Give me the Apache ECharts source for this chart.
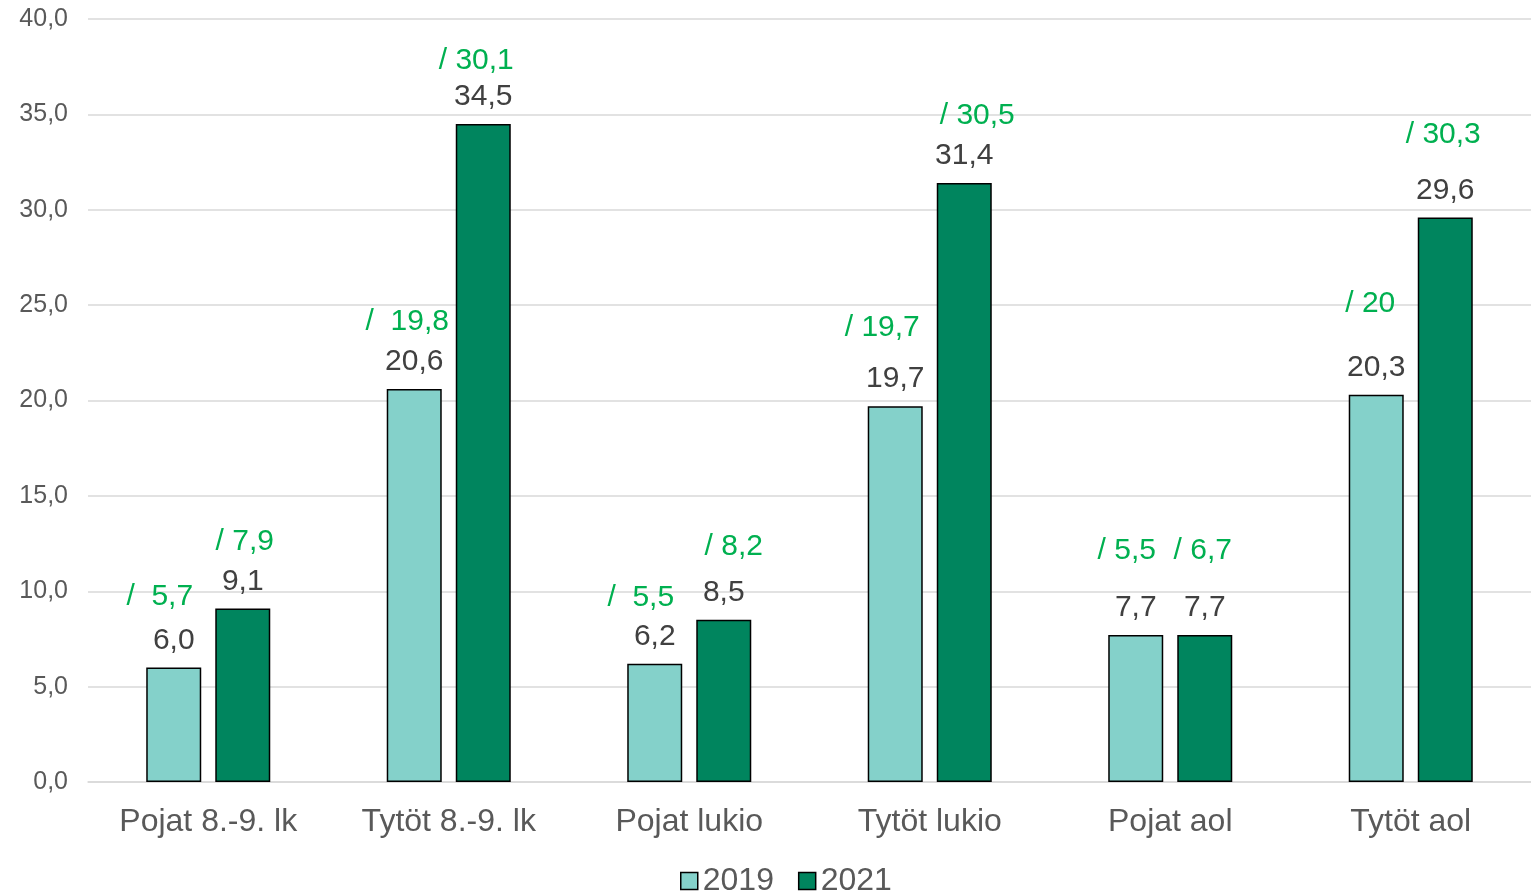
<!DOCTYPE html>
<html>
<head>
<meta charset="utf-8">
<script src="https://cdn.jsdelivr.net/npm/echarts@6/dist/echarts.min.js"></script>
<style>
html,body{margin:0;padding:0;background:#fff;}
#c{width:1531px;height:893px;}
</style>
</head>
<body>
<div id="c"></div>
<script>
const categories = ['Pojat 8.-9. lk', 'Tytöt 8.-9. lk', 'Pojat lukio', 'Tytöt lukio', 'Pojat aol', 'Tytöt aol'];
const seriesNames = ['2019', '2021'];
const values2019 = [6.0, 20.6, 6.2, 19.7, 7.7, 20.3];
const values2021 = [9.1, 34.5, 8.5, 31.4, 7.7, 29.6];
const green2019 = ['/  5,7', '/  19,8', '/  5,5', '/ 19,7', '/ 5,5', '/ 20'];
const green2021 = ['/ 7,9', '/ 30,1', '/ 8,2', '/ 30,5', '/ 6,7', '/ 30,3'];
const yTicks = { min: 0, max: 40, interval: 5 };

// layout of the green annotations (not data): horizontal shift and vertical gap in px
const greenLayout2019 = { dx: [-14, -7, -14, -13, -9, -6], gap: [44, 40, 39, 51, 57, 64] };
const greenLayout2021 = { dx: [2, -7, 10, 13, -2, -2], gap: [40, 36, 46, 40, 57, 56] };

const FONT = 'Liberation Sans, Arial, sans-serif';
const fmt = v => v.toFixed(1).replace('.', ',');
const VAL_FS = 30;

function makeSeries(name, values, greens, layout, color) {
  const rich = {
    v: { color: '#404040', fontSize: VAL_FS, fontFamily: FONT, lineHeight: VAL_FS }
  };
  values.forEach((_, i) => {
    rich['g' + i] = { color: '#00B050', fontSize: VAL_FS, fontFamily: FONT, lineHeight: 2 * (layout.gap[i] - VAL_FS / 2) };
    rich['s' + i] = { width: Math.abs(layout.dx[i]) * 2, fontSize: VAL_FS, lineHeight: 2 * (layout.gap[i] - VAL_FS / 2) };
  });
  return {
    name: name,
    type: 'bar',
    data: values,
    barWidth: 55,
    barGap: '25.5%',
    itemStyle: { color: color, borderColor: '#000', borderWidth: 1.5 },
    label: {
      show: true,
      position: 'top',
      distance: 12,
      formatter: p => {
        const i = p.dataIndex;
        const g = '{g' + i + '|' + greens[i] + '}';
        const s = '{s' + i + '| }';
        const line1 = layout.dx[i] < 0 ? g + s : s + g;
        return line1 + '\n{v|' + fmt(p.value) + '}';
      },
      rich: rich
    }
  };
}

const chart = echarts.init(document.getElementById('c'), null, { renderer: 'canvas' });
chart.setOption({
  animation: false,
  textStyle: { fontFamily: FONT },
  grid: { left: 88, right: 0, top: 19, bottom: 111, containLabel: false },
  legend: {
    data: seriesNames,
    top: 860,
    left: 675,
    itemWidth: 17,
    itemHeight: 17,
    itemGap: 24,
    icon: 'rect',
    textStyle: { fontSize: 32, color: '#595959', fontFamily: FONT },
    itemStyle: { borderColor: '#000', borderWidth: 1.5 }
  },
  xAxis: {
    type: 'category',
    data: categories,
    axisLine: { lineStyle: { color: '#D9D9D9', width: 1.5 } },
    axisTick: { show: false },
    axisLabel: { fontSize: 32, color: '#595959', fontFamily: FONT, margin: 24 }
  },
  yAxis: {
    type: 'value',
    min: yTicks.min,
    max: yTicks.max,
    interval: yTicks.interval,
    axisLine: { show: false },
    axisTick: { show: false },
    splitLine: { lineStyle: { color: '#D9D9D9', width: 1.5 } },
    axisLabel: { fontSize: 25, color: '#595959', fontFamily: FONT, margin: 20, formatter: v => fmt(v) }
  },
  series: [
    makeSeries(seriesNames[0], values2019, green2019, greenLayout2019, '#84D1CA'),
    makeSeries(seriesNames[1], values2021, green2021, greenLayout2021, '#00855E')
  ]
});
</script>
</body>
</html>
